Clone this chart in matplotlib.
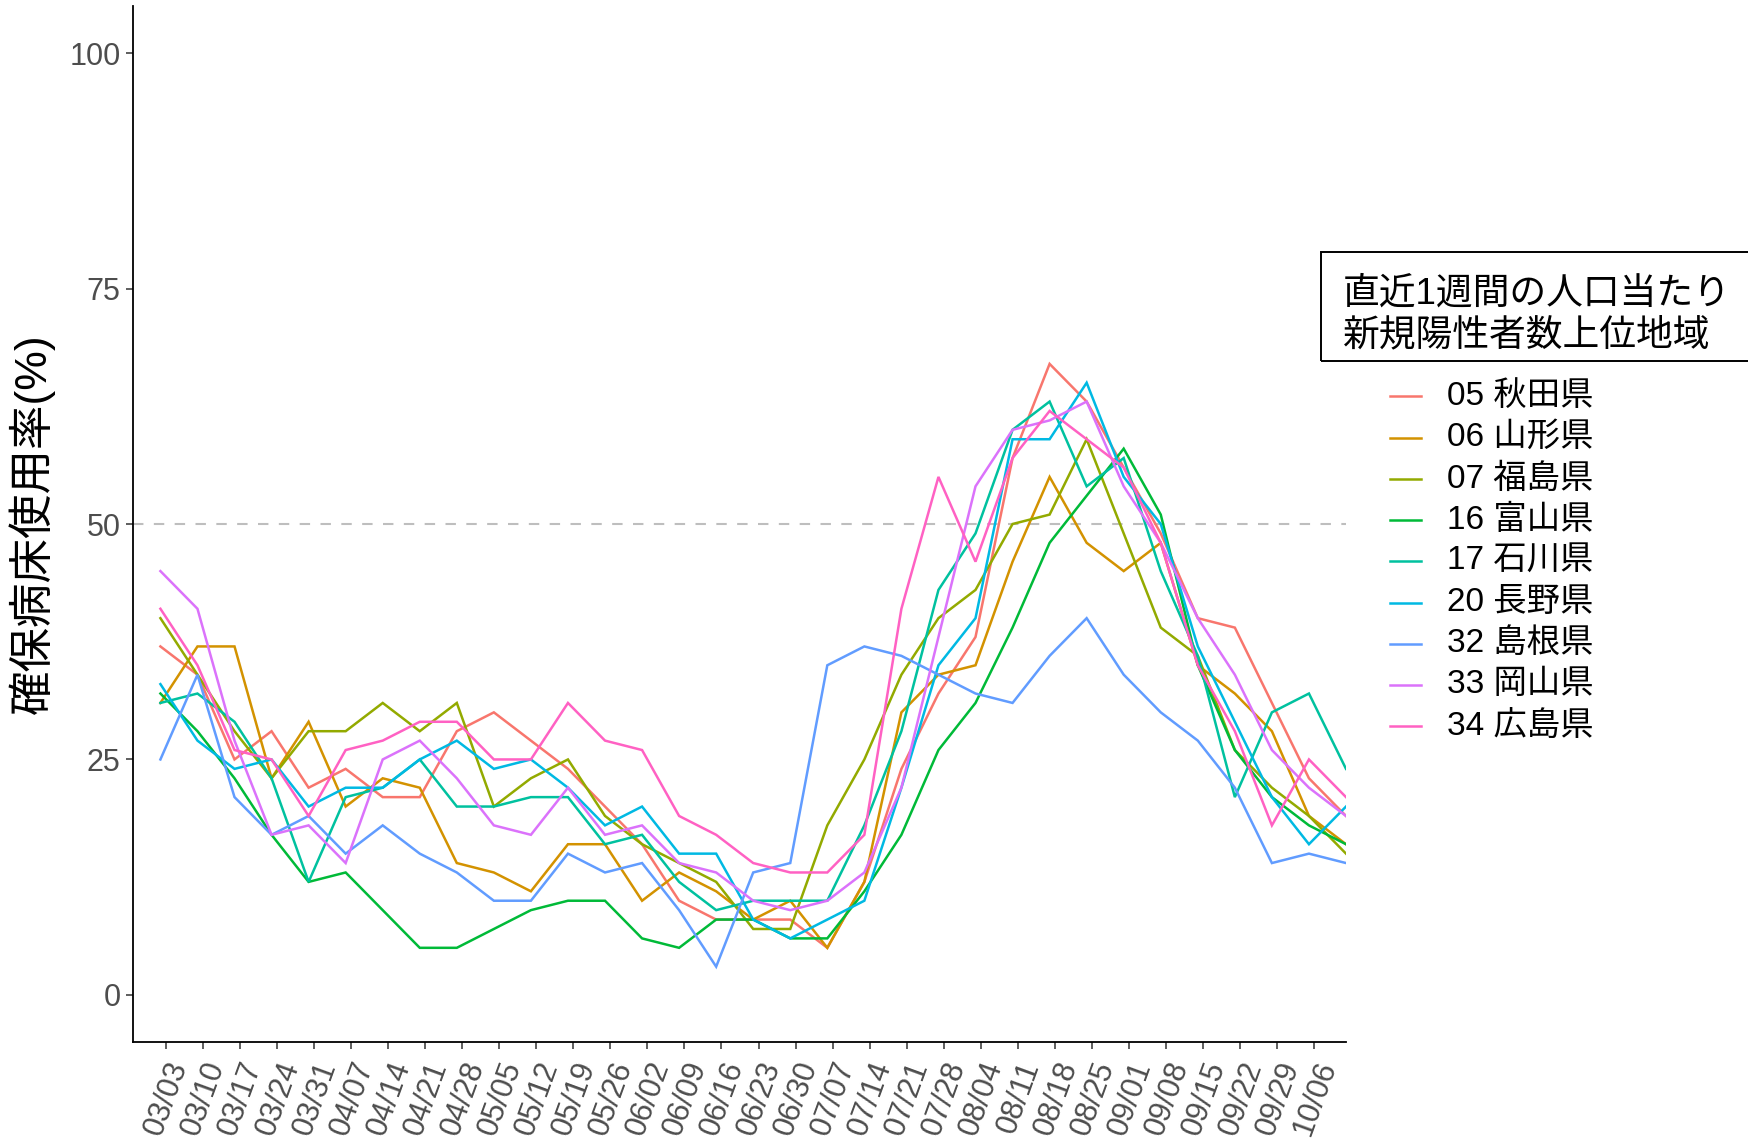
import matplotlib
matplotlib.use("Agg")
import matplotlib.pyplot as plt
from matplotlib.lines import Line2D
from matplotlib.patches import Rectangle

plt.rcParams["font.family"] = ["Liberation Sans", "Noto Sans CJK JP"]

# ── Data ──────────────────────────────────────────────────────────────────────
DATES = ["03/03", "03/10", "03/17", "03/24", "03/31", "04/07", "04/14", "04/21",
         "04/28", "05/05", "05/12", "05/19", "05/26", "06/02", "06/09", "06/16",
         "06/23", "06/30", "07/07", "07/14", "07/21", "07/28", "08/04", "08/11",
         "08/18", "08/25", "09/01", "09/08", "09/15", "09/22", "09/29", "10/06",
         "10/13"]
TICK_LABELS = DATES[:-1]

PREFS = ["05 秋田県", "06 山形県", "07 福島県", "16 富山県", "17 石川県",
         "20 長野県", "32 島根県", "33 岡山県", "34 広島県"]

akita     = [37, 34, 25, 28, 22, 24, 21, 21, 28, 30, 27, 24, 20, 16, 10, 8, 8, 8, 5, 12,
             24, 32, 38, 57, 67, 63, 56, 49, 40, 39, 31, 23, 19]
yamagata  = [31, 37, 37, 23, 29, 20, 23, 22, 14, 13, 11, 16, 16, 10, 13, 11, 8, 10, 5, 12,
             30, 34, 35, 46, 55, 48, 45, 48, 35, 32, 28, 19, 16]
fukushima = [40, 34, 28, 23, 28, 28, 31, 28, 31, 20, 23, 25, 19, 16, 14, 12, 7, 7, 18, 25,
             34, 40, 43, 50, 51, 59, 49, 39, 36, 26, 22, 19, 15]
toyama    = [32, 28, 23, 17, 12, 13, 9, 5, 5, 7, 9, 10, 10, 6, 5, 8, 8, 6, 6, 11,
             17, 26, 31, 39, 48, 53, 58, 51, 35, 26, 21, 18, 16]
ishikawa  = [31, 32, 29, 23, 12, 21, 22, 25, 20, 20, 21, 21, 16, 17, 12, 9, 10, 10, 10, 18,
             28, 43, 49, 60, 63, 54, 57, 45, 36, 21, 30, 32, 24]
nagano    = [33, 27, 24, 25, 20, 22, 22, 25, 27, 24, 25, 22, 18, 20, 15, 15, 8, 6, 8, 10,
             22, 35, 40, 59, 59, 65, 55, 50, 37, 29, 21, 16, 20]
shimane   = [25, 34, 21, 17, 19, 15, 18, 15, 13, 10, 10, 15, 13, 14, 9, 3, 13, 14, 35, 37,
             36, 34, 32, 31, 36, 40, 34, 30, 27, 22, 14, 15, 14]
okayama   = [45, 41, 27, 17, 18, 14, 25, 27, 23, 18, 17, 22, 17, 18, 14, 13, 10, 9, 10, 13,
             22, 38, 54, 60, 61, 63, 54, 48, 40, 34, 26, 22, 19]
hiroshima = [41, 35, 26, 25, 19, 26, 27, 29, 29, 25, 25, 31, 27, 26, 19, 17, 14, 13, 13, 17,
             41, 55, 46, 57, 62, 59, 56, 48, 35, 28, 18, 25, 21]

SERIES = [akita, yamagata, fukushima, toyama, ishikawa, nagano, shimane, okayama, hiroshima]
COLORS = ["#F8766D", "#D39200", "#93AA00", "#00BA38", "#00C19F",
          "#00B9E3", "#619CFF", "#DB72FB", "#FF61C3"]

LEGEND_TITLE = "直近1週間の人口当たり\n新規陽性者数上位地域"
Y_LABEL = "確保病床使用率(%)"

W, H = 1748, 1141
TEXT_GREY = "#4D4D4D"
TICK_SHIFT = 1 / 7   # week labels sit one day after the reporting date


def fx(px):
    return px / W


def fy(py):
    return 1 - py / H


# ── Plot ──────────────────────────────────────────────────────────────────────
fig = plt.figure(figsize=(W / 100, H / 100), dpi=100)
fig.patch.set_facecolor("white")
ax = fig.add_axes([fx(133), fy(1042), fx(1346) - fx(133), fy(6) - fy(1042)])

x = list(range(len(DATES)))
handles = []
for vals, col in zip(SERIES, COLORS):
    ln, = ax.plot(x, vals, color=col, lw=1.8, solid_joinstyle="miter")
    handles.append(ln)

ax.axhline(50, color="#BEBEBE", lw=1.5, dashes=(5, 5), zorder=0)

ax.set_xlim(-0.74, len(DATES) - 1)
ax.set_ylim(-5, 105)
ax.set_yticks([0, 25, 50, 75, 100])
ax.set_yticklabels(["0", "25", "50", "75", "100"], color=TEXT_GREY, fontsize=22)
ax.set_xticks([i + TICK_SHIFT for i in range(len(TICK_LABELS))])
ax.set_xticklabels(TICK_LABELS, rotation=70, ha="right", va="top",
                   rotation_mode="anchor", color=TEXT_GREY, fontsize=22)
ax.tick_params(axis="both", length=5, width=1.1, color="#333333")
ax.tick_params(axis="x", pad=6)
ax.tick_params(axis="y", pad=4)

for side in ("top", "right"):
    ax.spines[side].set_visible(False)
for side in ("left", "bottom"):
    ax.spines[side].set_linewidth(1.3)
    ax.spines[side].set_color("black")

ax.set_ylabel(Y_LABEL, fontsize=32, labelpad=10)

# ── Legend (title in a box, keys below) ───────────────────────────────────────
fig.add_artist(Rectangle((fx(1321), fy(361)), fx(500), fy(252) - fy(361),
                         transform=fig.transFigure, fill=False,
                         edgecolor="black", lw=1.4, clip_on=False))
fig.text(fx(1343), fy(315), LEGEND_TITLE, fontsize=26.5, va="center", ha="left",
         linespacing=1.22)

for i, (h, lab) in enumerate(zip(handles, PREFS)):
    yy = fy(396.5 + i * 41.2)
    fig.add_artist(Line2D([fx(1390), fx(1421)], [yy, yy], color=h.get_color(),
                          lw=1.8, transform=fig.transFigure))
    fig.text(fx(1447), yy, lab, fontsize=24, va="center", ha="left")

fig.savefig("out.png", dpi=100, facecolor=fig.get_facecolor())
plt.close(fig)
